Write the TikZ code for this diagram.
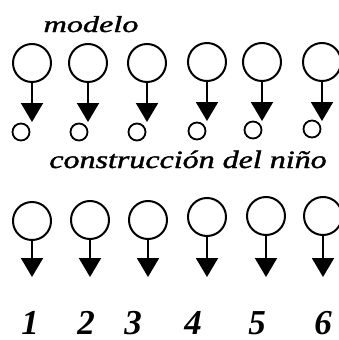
\documentclass[tikz,border=0pt]{standalone}
\usepackage{fontspec}
\setmainfont{Liberation Serif}
\newfontfamily\lblfont[ItalicFeatures={FakeBold=1.3}]{Liberation Serif}
\usetikzlibrary{arrows.meta}
\begin{document}
\begin{tikzpicture}[x=1pt,y=-1pt,
  big/.style={circle,draw=black,line width=2pt,minimum size=38pt,inner sep=0pt},
  small/.style={circle,draw=black,line width=1.8pt,minimum size=17pt,inner sep=0pt},
  arr/.style={line width=2pt,-{Triangle[width=22pt,length=19pt]}},
  lbl/.style={inner sep=0pt,anchor=base},
  num/.style={inner sep=0pt,anchor=base,font=\fontsize{35}{35}\selectfont\bfseries\itshape}]
\useasboundingbox (0,0) rectangle (339,340);
% labels
\node[lbl] (m) at (91,32) {\scalebox{1.4}[1]{\fontsize{23}{23}\selectfont\lblfont\itshape modelo}};
\node[lbl] (c) at (188,168) {\scalebox{1.28}[1]{\fontsize{25}{25}\selectfont\lblfont\itshape construcción del niño}};
% top row
\foreach \i/\x/\y/\sx/\sy in {1/32/63/21/132,2/88/63/79/132,3/147/63/137/132,4/207/62/197/131,5/262/62/253/130,6/322/62/312/129}{
  \node[big] (t\i) at (\x,\y) {};
  \node[small] (s\i) at (\sx,\sy) {};
  \coordinate (ta\i) at (\x,\y+59);
  \draw[arr] (t\i.south) -- (ta\i);
}
% bottom row
\foreach \i/\x/\y in {1/32/221,2/90/220,3/148/220,4/207/217,5/266/216,6/323/216}{
  \node[big] (b\i) at (\x,\y) {};
  \coordinate (ba\i) at (\x,277);
  \draw[arr] (b\i.south) -- (ba\i);
}
% numbers
\foreach \i/\x in {1/30,2/86,3/133,4/193,5/257,6/323}{
  \node[num] (n\i) at (\x,334) {\i};
}
\end{tikzpicture}
\end{document}
